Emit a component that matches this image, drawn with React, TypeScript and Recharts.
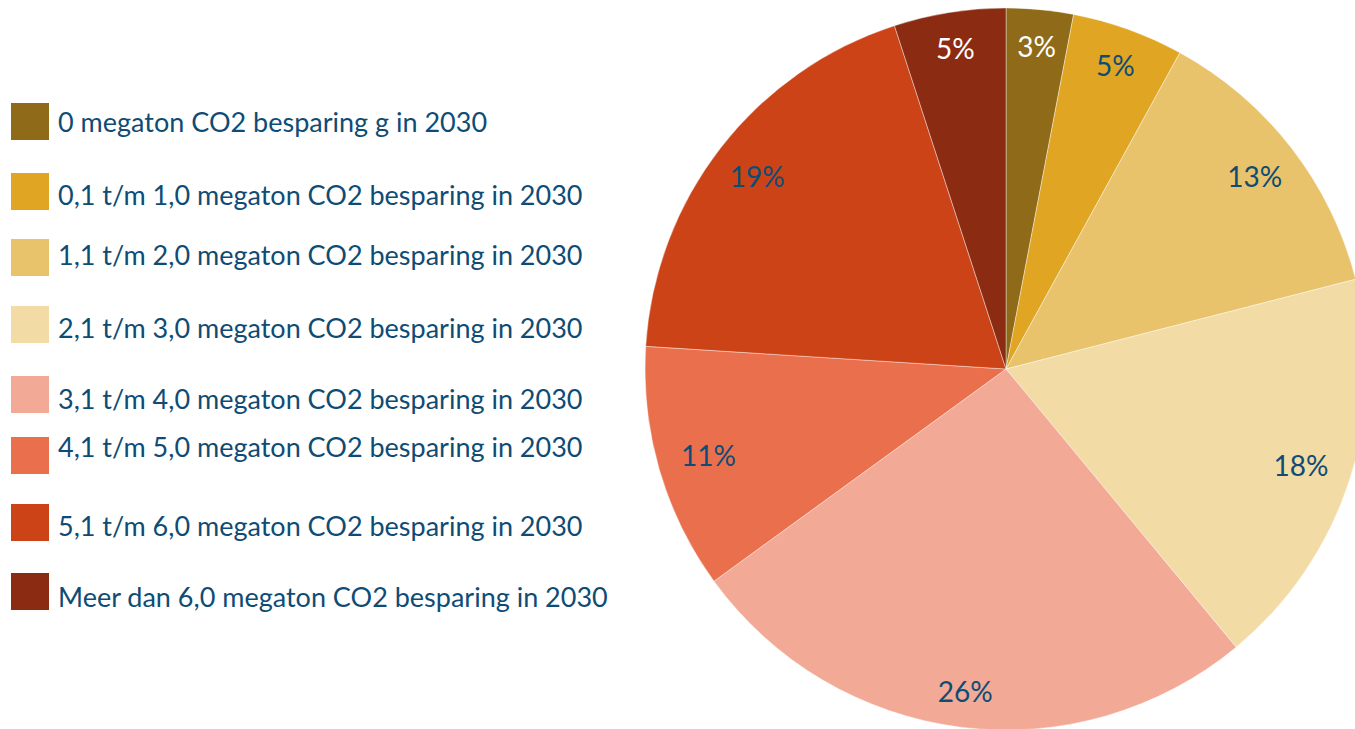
import { PieChart, Pie, Cell } from "recharts";

const categories = [
  "0 megaton CO2 besparing g in 2030",
  "0,1 t/m 1,0 megaton CO2 besparing in 2030",
  "1,1 t/m 2,0 megaton CO2 besparing in 2030",
  "2,1 t/m 3,0 megaton CO2 besparing in 2030",
  "3,1 t/m 4,0 megaton CO2 besparing in 2030",
  "4,1 t/m 5,0 megaton CO2 besparing in 2030",
  "5,1 t/m 6,0 megaton CO2 besparing in 2030",
  "Meer dan 6,0 megaton CO2 besparing in 2030",
];
const shares = [3, 5, 13, 18, 26, 11, 19, 5];
const colors = ["#8f6a18", "#dfa523", "#e8c36b", "#f2dba5", "#f2a996", "#ea704d", "#cc4318", "#8b2b12"];
const labelColors = ["#ffffff", "#0f4c75", "#0f4c75", "#0f4c75", "#0f4c75", "#0f4c75", "#0f4c75", "#ffffff"];

// legend rows are unevenly spaced in the original
const swatchTop = [103, 173, 239, 306, 376, 437, 504, 573];
const textMid = [122, 195, 255, 328, 399, 447, 526, 597];

const TEXT = "#0f4c75";
const FONT = "Lato, 'Noto Sans', sans-serif";

const data = categories.map((name, i) => ({ name, value: shares[i] }));

const RAD = Math.PI / 180;

// eslint-disable-next-line @typescript-eslint/no-explicit-any
function SliceLabel({ cx, cy, midAngle, outerRadius, index, value }: any) {
  // labels near top/bottom sit a bit further out than the ones at the sides
  const s = Math.sin(midAngle * RAD);
  const r = outerRadius * (0.855 + 0.045 * s * s);
  const x = cx + r * Math.cos(-midAngle * RAD);
  const y = cy + r * Math.sin(-midAngle * RAD);
  return (
    <text
      x={x}
      y={y}
      fill={labelColors[index]}
      textAnchor="middle"
      dominantBaseline="central"
      fontSize={28}
      fontFamily={FONT}
    >
      {value}%
    </text>
  );
}

export default function App() {
  return (
    <div
      style={{
        position: "absolute",
        left: 0,
        top: 0,
        width: 1355,
        height: 729,
        overflow: "hidden",
        background: "#fff",
        fontFamily: FONT,
      }}
    >
      <PieChart
        width={1355}
        height={729}
        margin={{ top: 0, right: 0, bottom: 0, left: 0 }}
        style={{ position: "absolute", left: 0, top: 0 }}
      >
        <Pie
          data={data}
          dataKey="value"
          cx={1006}
          cy={369}
          outerRadius={361}
          startAngle={90}
          endAngle={-270}
          stroke="#ffffff"
          strokeWidth={0.4}
          label={SliceLabel}
          labelLine={false}
          isAnimationActive={false}
        >
          {data.map((d, i) => (
            <Cell key={d.name} fill={colors[i]} />
          ))}
        </Pie>
      </PieChart>

      {categories.map((c, i) => (
        <div key={c}>
          <div
            style={{
              position: "absolute",
              left: 11,
              top: swatchTop[i],
              width: 38,
              height: 37,
              background: colors[i],
            }}
          />
          <div
            style={{
              position: "absolute",
              left: 58,
              top: textMid[i] - 18,
              height: 36,
              lineHeight: "36px",
              fontSize: 27,
              color: TEXT,
              whiteSpace: "nowrap",
            }}
          >
            {c}
          </div>
        </div>
      ))}
    </div>
  );
}
